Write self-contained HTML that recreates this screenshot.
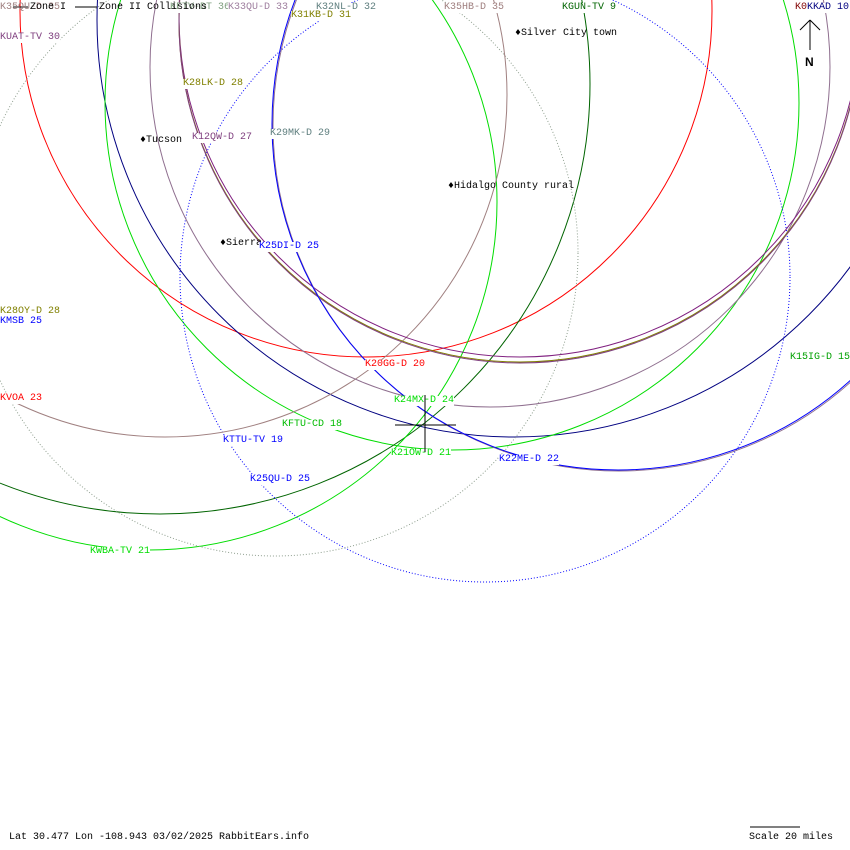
<!DOCTYPE html>
<html><head><meta charset="utf-8"><style>
html,body{margin:0;padding:0;background:#fff;}
#w{position:relative;width:850px;height:850px;overflow:hidden;background:#fff;}
svg{position:absolute;left:0;top:0;}
.l{position:absolute;font-family:"Liberation Mono","DejaVu Sans Mono",monospace;font-size:10px;line-height:10px;white-space:pre;background:#fff;}
.t{position:absolute;font-family:"Liberation Mono","DejaVu Sans Mono",monospace;font-size:10px;line-height:10px;white-space:pre;color:#000;}
</style></head><body><div id="w">
<svg width="850" height="850" viewBox="0 0 850 850" fill="none" stroke-width="1">
<circle cx="366" cy="11" r="346" stroke="#ff0000"/>
<circle cx="514" cy="20" r="417" stroke="#000080"/>
<circle cx="452" cy="103" r="347" stroke="#00dd00"/>
<circle cx="160" cy="84" r="430" stroke="#006400"/>
<circle cx="149" cy="202" r="348" stroke="#00dd00"/>
<circle cx="485" cy="277" r="305" stroke="#0000ff" stroke-dasharray="1 2"/>
<circle cx="275" cy="253" r="303" stroke="#8f9f8f" stroke-dasharray="1 2"/>
<circle cx="165" cy="95" r="342" stroke="#a08080"/>
<circle cx="490" cy="67" r="340" stroke="#8f6f8f"/>
<circle cx="520" cy="16" r="341" stroke="#802080"/>
<circle cx="520" cy="21" r="341" stroke="#808000"/>
<circle cx="520" cy="22" r="341" stroke="#7f3f7f"/>
<circle cx="619" cy="125" r="346" stroke="#8f6f8f"/>
<circle cx="618" cy="124" r="346" stroke="#0000ff"/>
<line x1="13" y1="7" x2="28" y2="7" stroke="#000"/>
<line x1="75" y1="7" x2="97" y2="7" stroke="#000"/>
<line x1="810" y1="20" x2="810" y2="50" stroke="#000"/>
<line x1="810" y1="20" x2="800" y2="30" stroke="#000"/>
<line x1="810" y1="20" x2="820" y2="30" stroke="#000"/>
<line x1="750" y1="827" x2="800" y2="827" stroke="#000"/>
</svg>
<div class="l" style="left:0;top:3px;color:#9f7f7f;background:transparent">K35QU-D 35</div>
<div class="t" style="left:30px;top:3px">Zone I</div>
<div class="l" style="left:170px;top:3px;color:#7f9f7f">KFTV-DT 36</div>
<div class="t" style="left:99px;top:3px">Zone II Collisions</div>
<div class="l" style="left:228px;top:3px;color:#9f7f9f">K33QU-D 33</div>
<div class="l" style="left:316px;top:3px;color:#5f7f7f">K32NL-D 32</div>
<div class="l" style="left:291px;top:11px;color:#808000">K31KB-D 31</div>
<div class="l" style="left:0;top:33px;color:#7f3f7f">KUAT-TV 30</div>
<div class="l" style="left:183px;top:79px;color:#808000">K28LK-D 28</div>
<div class="l" style="left:192px;top:133px;color:#7f3f7f">K12QW-D 27</div>
<div class="l" style="left:270px;top:129px;color:#5f7f7f">K29MK-D 29</div>
<div class="t" style="left:140px;top:136px">♦Tucson</div>
<div class="l" style="left:444px;top:3px;color:#9f7f7f">K35HB-D 35</div>
<div class="l" style="left:562px;top:3px;color:#006400">KGUN-TV 9</div>
<div class="t" style="left:515px;top:29px">♦Silver City town</div>
<div class="l" style="left:795px;top:3px;color:#000080"><span style="color:#800000">K0</span>KKAD 10</div>
<div class="t" style="left:805px;top:57px;font-weight:bold;font-size:12px;font-family:'Liberation Sans',sans-serif">N</div>
<div class="t" style="left:448px;top:182px">♦Hidalgo County rural</div>
<div class="t" style="left:220px;top:239px">♦Sierra</div>
<div class="l" style="left:259px;top:242px;color:#0000ff">K25DI-D 25</div>
<div class="l" style="left:0;top:307px;color:#808000">K28OY-D 28</div>
<div class="l" style="left:0;top:317px;color:#0000ff;background:transparent">KMSB 25</div>
<div class="l" style="left:365px;top:360px;color:#ff0000">K20GG-D 20</div>
<div class="l" style="left:0;top:394px;color:#ff0000">KVOA 23</div>
<div class="l" style="left:394px;top:396px;color:#00dd00">K24MX-D 24</div>
<div class="l" style="left:282px;top:420px;color:#00bb00">KFTU-CD 18</div>
<div class="l" style="left:223px;top:436px;color:#0000ff">KTTU-TV 19</div>
<div class="l" style="left:391px;top:449px;color:#00dd00">K21OW-D 21</div>
<div class="l" style="left:499px;top:455px;color:#0000ff">K22ME-D 22</div>
<div class="l" style="left:250px;top:475px;color:#0000ff">K25QU-D 25</div>
<div class="l" style="left:90px;top:547px;color:#00dd00">KWBA-TV 21</div>
<div class="l" style="left:790px;top:353px;color:#00a000">K15IG-D 15</div>
<svg width="850" height="850" viewBox="0 0 850 850" style="pointer-events:none">
<line x1="395" y1="425" x2="456" y2="425" stroke="#000"/>
<line x1="425" y1="395" x2="425" y2="452" stroke="#000"/>
</svg>
<div class="t" style="left:9px;top:833px">Lat 30.477 Lon -108.943 03/02/2025 RabbitEars.info</div>
<div class="t" style="left:749px;top:833px">Scale 20 miles</div>
</div></body></html>
